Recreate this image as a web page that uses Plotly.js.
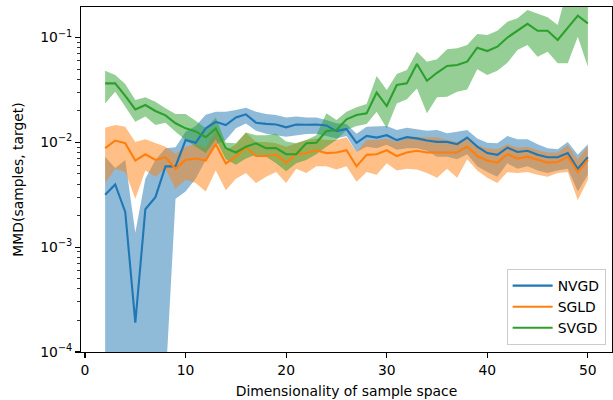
<!DOCTYPE html>
<html>
<head>
<meta charset="utf-8">
<script src="https://cdn.plot.ly/plotly-3.0.1.min.js"></script>
<style>html,body{margin:0;padding:0;background:#fff;}#chart{width:613px;height:400px;}</style>
</head>
<body>
<div id="chart"></div>
<script>
const dims = [2,3,4,5,6,7,8,9,10,11,12,13,14,15,16,17,18,19,20,21,22,23,24,25,26,27,28,29,30,31,32,33,34,35,36,37,38,39,40,41,42,43,44,45,46,47,48,49,50];

const nvgdMean = [0.00316,0.00397,0.00217,0.00019,0.0023,0.003,0.0059,0.0059,0.0105,0.0099,0.0136,0.0157,0.0146,0.0173,0.0185,0.0154,0.0150,0.0148,0.0139,0.0148,0.0147,0.0148,0.0145,0.0128,0.0134,0.0099,0.0115,0.0111,0.0117,0.0105,0.0112,0.0109,0.0104,0.0101,0.0101,0.0096,0.0111,0.0091,0.0079,0.0076,0.0089,0.0081,0.0083,0.0076,0.0072,0.0072,0.0079,0.0056,0.0072];
const nvgdUpper = [0.0073,0.0057,0.0068,0.00137,0.0045,0.0068,0.0088,0.009,0.0126,0.0143,0.0183,0.0196,0.0196,0.0203,0.0214,0.0196,0.0186,0.0182,0.0173,0.0176,0.0173,0.0173,0.0163,0.0152,0.0150,0.0121,0.0141,0.0143,0.0143,0.0131,0.0138,0.0133,0.0129,0.0131,0.0122,0.0126,0.0131,0.0109,0.0099,0.0098,0.0115,0.0107,0.0107,0.0096,0.0088,0.0086,0.0101,0.0076,0.0096];
const nvgdLower = [1e-5,1e-5,1e-5,1e-5,1e-5,1e-5,5e-5,0.0029,0.0034,0.0045,0.0068,0.0095,0.0105,0.0136,0.0151,0.0129,0.0121,0.0117,0.0113,0.0117,0.0120,0.0121,0.0115,0.0109,0.0115,0.0081,0.0091,0.0088,0.0095,0.0085,0.0088,0.0088,0.0083,0.0073,0.0073,0.0069,0.0077,0.0059,0.0052,0.0047,0.0063,0.0056,0.0059,0.0054,0.0051,0.0054,0.0056,0.0034,0.0049];

const sgldMean = [0.0088,0.0104,0.0098,0.0067,0.0077,0.0068,0.0072,0.0056,0.0068,0.0070,0.0067,0.0096,0.0063,0.0073,0.0090,0.0074,0.0074,0.0076,0.0064,0.0077,0.0079,0.0084,0.0079,0.0080,0.0084,0.0059,0.0076,0.0077,0.0084,0.0074,0.0080,0.0083,0.0080,0.0080,0.0080,0.0080,0.0091,0.0074,0.0067,0.0064,0.0077,0.0070,0.0073,0.0068,0.0064,0.0065,0.0073,0.0052,0.0068];
const sgldUpper = [0.0138,0.0146,0.0141,0.0101,0.0107,0.0099,0.0091,0.0078,0.0091,0.0096,0.0089,0.0129,0.0084,0.0096,0.0124,0.0101,0.0101,0.0098,0.0091,0.0098,0.0105,0.0109,0.0105,0.0105,0.0112,0.0081,0.0105,0.0105,0.0109,0.0101,0.0109,0.0112,0.0112,0.0112,0.0105,0.0101,0.0112,0.0094,0.0088,0.0086,0.0096,0.0089,0.0091,0.0084,0.0080,0.0080,0.0094,0.0069,0.0092];
const sgldLower = [0.0041,0.0056,0.0052,0.0029,0.0054,0.0047,0.0056,0.0036,0.0044,0.0041,0.0034,0.0054,0.0035,0.0045,0.0051,0.0041,0.0047,0.0052,0.0041,0.0056,0.0051,0.0059,0.0059,0.0055,0.0059,0.0042,0.0052,0.0049,0.0063,0.0054,0.0056,0.0055,0.0051,0.0046,0.0056,0.0046,0.0069,0.0054,0.0046,0.0041,0.0052,0.0051,0.0052,0.0049,0.0047,0.0051,0.0052,0.0028,0.0044];

const svgdMean = [0.0365,0.0365,0.0278,0.0206,0.0227,0.0199,0.0181,0.0152,0.0136,0.0127,0.0112,0.0136,0.0088,0.0080,0.0091,0.0098,0.0088,0.0088,0.0077,0.0077,0.0098,0.0099,0.0128,0.0131,0.0166,0.0182,0.0189,0.0298,0.0222,0.0352,0.0365,0.0559,0.0387,0.0461,0.0535,0.0547,0.0588,0.080,0.0743,0.0817,0.100,0.116,0.135,0.116,0.116,0.0946,0.1225,0.1615,0.1365];
const svgdUpper = [0.0483,0.0439,0.036,0.0253,0.0269,0.0244,0.0211,0.0186,0.0186,0.0161,0.0136,0.0173,0.0099,0.0098,0.0124,0.0117,0.0117,0.0121,0.0102,0.0098,0.0105,0.0117,0.0189,0.0163,0.0196,0.0216,0.0232,0.0429,0.0316,0.0448,0.049,0.0732,0.0588,0.0619,0.0771,0.0788,0.0848,0.108,0.1056,0.1162,0.1416,0.1524,0.183,0.1676,0.1557,0.1316,0.3,0.35,0.3];
const svgdLower = [0.0235,0.0304,0.0219,0.0157,0.0176,0.0146,0.0154,0.0126,0.0105,0.0091,0.0079,0.0107,0.0069,0.0061,0.0070,0.0076,0.0073,0.0063,0.0053,0.0063,0.0068,0.0077,0.0091,0.0105,0.0131,0.0143,0.0150,0.0196,0.0136,0.0235,0.0257,0.0327,0.0189,0.0269,0.0272,0.0304,0.032,0.0497,0.0439,0.0483,0.0575,0.076,0.0848,0.0656,0.0732,0.0567,0.0567,0.1018,0.0527];

const seriesNames = ['NVGD','SGLD','SVGD'];
const xTicks = [0,10,20,30,40,50];
const yDecades = [-4,-3,-2,-1];

const colors = ['#1f77b4','#ff7f0e','#2ca02c'];
const bandColors = ['rgba(31,119,180,0.5)','rgba(255,127,14,0.5)','rgba(44,160,44,0.5)'];
const means = [nvgdMean, sgldMean, svgdMean];
const uppers = [nvgdUpper, sgldUpper, svgdUpper];
const lowers = [nvgdLower, sgldLower, svgdLower];

const majorVals = yDecades.map(function (d) { return Math.pow(10, d); });
const majorText = yDecades.map(function (d) { return '10<sup>\u2212' + Math.abs(d) + '</sup>'; });
const minorVals = [];
yDecades.forEach(function (d) { for (let k = 2; k <= 9; k++) minorVals.push(k * Math.pow(10, d)); });

const traces = [];
for (let i = 0; i < 3; i++) {
  traces.push({
    x: dims.concat(dims.slice().reverse()),
    y: uppers[i].concat(lowers[i].slice().reverse()),
    type: 'scatter', mode: 'lines', fill: 'toself',
    fillcolor: bandColors[i], line: {width: 0, color: 'rgba(0,0,0,0)'},
    showlegend: false, hoverinfo: 'skip'
  });
}
for (let i = 0; i < 3; i++) {
  traces.push({
    x: dims, y: means[i], type: 'scatter', mode: 'lines',
    name: seriesNames[i], line: {color: colors[i], width: 2.1}
  });
}
// invisible carrier for the minor-tick overlay axis
traces.push({x: dims, y: nvgdMean, yaxis: 'y2', type: 'scatter', mode: 'none', showlegend: false, hoverinfo: 'skip'});

const yRange = [-4, -0.709];
const font = {family: 'DejaVu Sans, sans-serif', size: 13.9, color: '#000'};
const layout = {
  width: 613, height: 400,
  margin: {l: 81, r: 1, t: 7, b: 48, pad: 0},
  paper_bgcolor: '#fff', plot_bgcolor: '#fff',
  font: font,
  showlegend: true,
  xaxis: {
    range: [-0.4, 52.4], tickmode: 'array', tickvals: xTicks, ticktext: xTicks.map(String),
    ticks: 'outside', ticklen: 4.9, tickwidth: 1.1, tickcolor: '#000',
    showline: true, mirror: true, linecolor: '#000', linewidth: 1.1,
    showgrid: false, zeroline: false, tickfont: font,
    title: {text: 'Dimensionality of sample space', font: font, standoff: 9}
  },
  yaxis: {
    type: 'log', range: yRange, tickmode: 'array', tickvals: majorVals, ticktext: majorText,
    ticks: 'outside', ticklen: 4.9, tickwidth: 1.1, tickcolor: '#000',
    showline: true, mirror: true, linecolor: '#000', linewidth: 1.1,
    showgrid: false, zeroline: false, tickfont: font,
    title: {text: 'MMD(samples, target)', font: font, standoff: 13}
  },
  yaxis2: {
    type: 'log', range: yRange, overlaying: 'y', side: 'left',
    tickmode: 'array', tickvals: minorVals, showticklabels: false,
    ticks: 'outside', ticklen: 2.8, tickwidth: 0.8, tickcolor: '#000',
    showline: false, showgrid: false, zeroline: false
  },
  legend: {
    x: 0.988, y: 0.02, xanchor: 'right', yanchor: 'bottom',
    bgcolor: 'rgba(255,255,255,0.8)', bordercolor: '#cccccc', borderwidth: 1,
    font: font, itemwidth: 40, tracegroupgap: 0
  }
};

Plotly.newPlot('chart', traces, layout, {displayModeBar: false, staticPlot: true});
</script>
</body>
</html>
